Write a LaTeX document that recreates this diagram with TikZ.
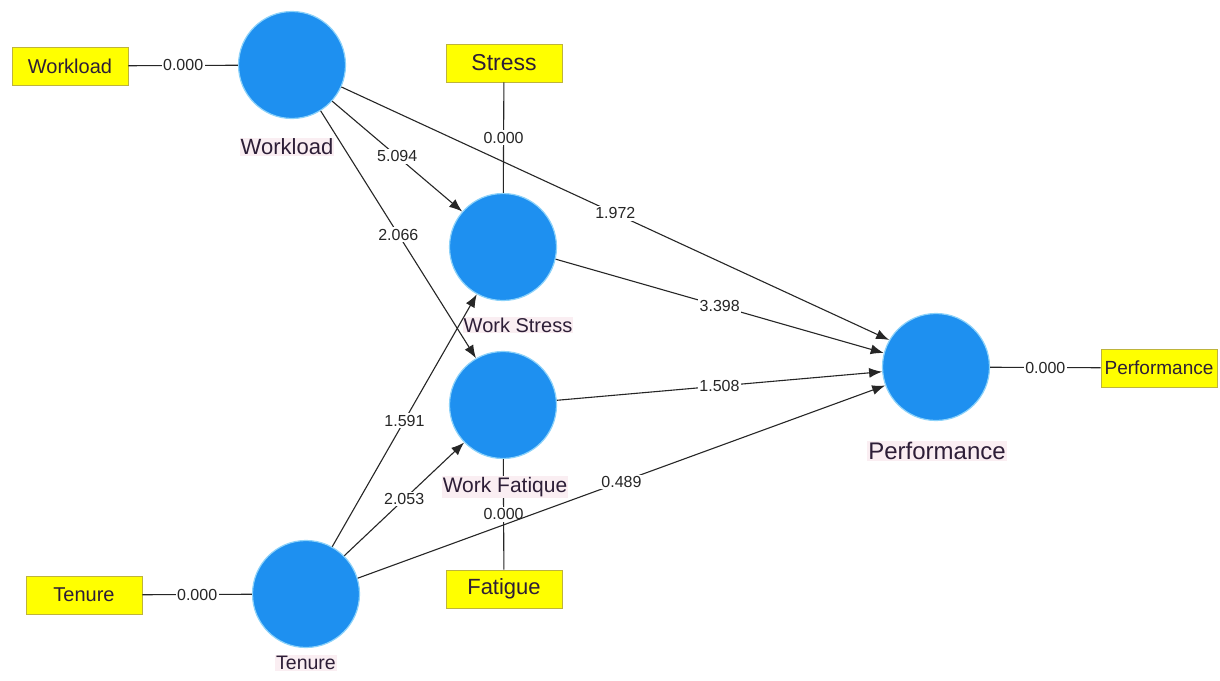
\documentclass[tikz,border=0pt]{standalone}
\usepackage{fontspec}
\setmainfont{Liberation Sans}
\usetikzlibrary{arrows.meta}
\definecolor{latentblue}{RGB}{30,144,240}
\definecolor{latentrim}{RGB}{140,210,250}
\definecolor{itemyellow}{RGB}{255,255,0}
\definecolor{itemrim}{RGB}{190,180,60}
\definecolor{labelink}{RGB}{45,30,55}
\definecolor{labelhalo}{RGB}{250,238,242}

\begin{document}
\begin{tikzpicture}[x=1pt, y=-1pt,
  latent/.style={circle, fill=latentblue, draw=latentrim, line width=1.2pt, minimum size=107pt, inner sep=0pt},
  item/.style={draw=itemrim, fill=itemyellow, line width=0.8pt, minimum width=116pt, minimum height=38pt, inner sep=0pt, text=labelink},
  lvname/.style={text=labelink, fill=labelhalo, inner sep=1pt},
  coef/.style={fill=white, inner sep=1.5pt, font=\fontsize{16}{19}\selectfont, text=black!85},
  link/.style={line width=1.1pt, draw=black!85},
  arr/.style={link, -{Latex[length=13pt, width=10pt]}}
]
\fill[white] (0,0) rectangle (1220,680);
\useasboundingbox (0,0) rectangle (1220,680);

% latent variables
\node[latent] (wl) at (292,65) {};
\node[latent] (ws) at (503,247) {};
\node[latent] (wf) at (503,405) {};
\node[latent] (te) at (306,594) {};
\node[latent] (perf) at (936,367) {};

% indicators
\node[item, font=\fontsize{20}{24}\selectfont] (wlItem) at (70,66) {Workload};
\node[item, font=\fontsize{23}{27}\selectfont] (stItem) at (504,63) {Stress};
\node[item, font=\fontsize{22}{26}\selectfont] (faItem) at (504,589) {Fatigue};
\node[item, font=\fontsize{20}{24}\selectfont] (teItem) at (84,595) {Tenure};
\node[item, font=\fontsize{19}{23}\selectfont] (perfItem) at (1159,368) {Performance};

\draw[link] (wlItem) -- node[coef] {0.000} (wl);
\draw[link] (stItem) -- node[coef] {0.000} (ws);
\draw[link] (faItem) -- node[coef] {0.000} (wf);
\draw[link] (teItem) -- node[coef] {0.000} (te);
\draw[link] (perf) -- node[coef] {0.000} (perfItem);

\node[lvname, font=\fontsize{22}{26}\selectfont] (wlName) at (287,147) {Workload};
\node[lvname, font=\fontsize{20}{24}\selectfont] (wsName) at (518,325) {Work Stress};
\node[lvname, font=\fontsize{21}{25}\selectfont] (wfName) at (505,487) {Work Fatique};
\node[lvname, font=\fontsize{19.5}{23}\selectfont] (teName) at (306,663) {Tenure};
\node[lvname, font=\fontsize{24}{28}\selectfont] (perfName) at (937,451) {Performance};

% structural paths
\draw[arr] (wl.-42) -- node[coef] {5.094} (ws.139);
\draw[arr] (wl.-58) -- node[coef] {2.066} (wf.120);
\draw[arr] (wl.-24) -- node[coef] {1.972} (perf.150);
\draw[arr] (ws.-13) -- node[coef] {3.398} (perf.165);
\draw[arr] (wf.5) -- node[coef] {1.508} (perf.185);
\draw[arr] (te.61) -- node[coef] {1.591} (ws.241);
\draw[arr] (te.45) -- node[coef] {2.053} (wf.224);
\draw[arr] (te.17) -- node[coef] {0.489} (perf.200);
\end{tikzpicture}
\end{document}
